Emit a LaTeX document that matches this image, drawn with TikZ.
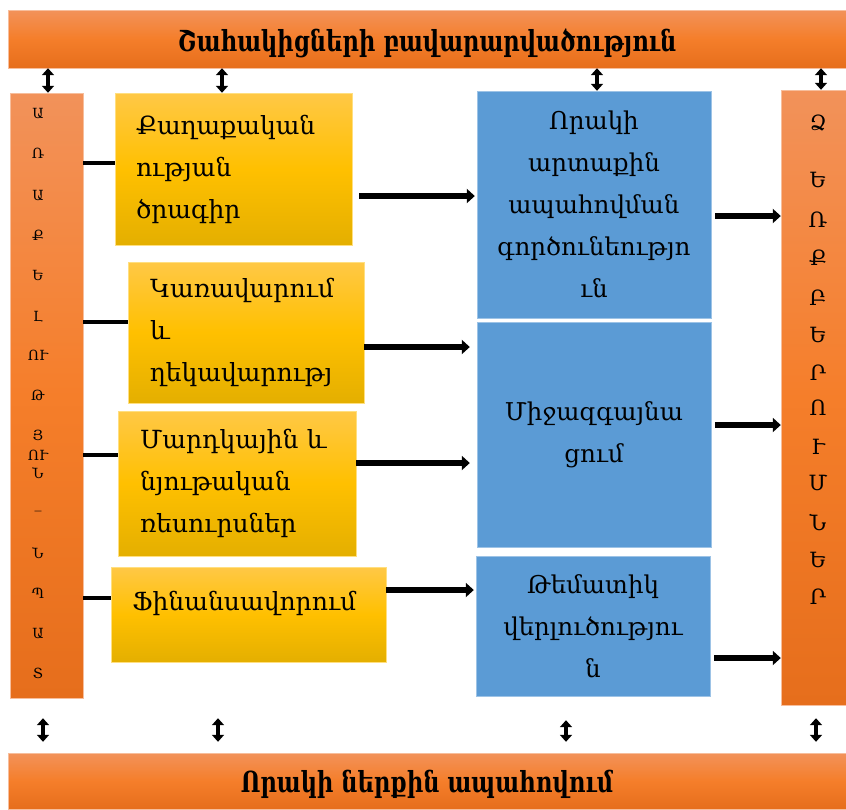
\documentclass[tikz,border=0pt]{standalone}
\usepackage{fontspec}
\setmainfont{DejaVu Serif}
\newfontfamily\headfont{DejaVu Serif}[FakeStretch=0.78]
\usetikzlibrary{arrows.meta, positioning}
\definecolor{orangeTop}{RGB}{242,146,90}
\definecolor{orangeMid}{RGB}{245,126,42}
\definecolor{orangeBot}{RGB}{230,110,28}
\definecolor{goldTop}{RGB}{255,200,70}
\definecolor{goldMid}{RGB}{255,192,0}
\definecolor{goldBot}{RGB}{228,175,0}
\definecolor{qualBlue}{RGB}{91,155,213}

\begin{document}
\begin{tikzpicture}[x=1pt,y=-1pt]
		\tikzstyle{Bar} = [rectangle, inner sep=0pt, draw=orangeTop!60!white, top color=orangeTop, bottom color=orangeBot, middle color=orangeMid]
		\tikzstyle{GoldBox} = [rectangle, inner sep=0pt, align=left, draw=goldMid!50!white, top color=goldTop, bottom color=goldBot, middle color=goldMid, font=\fontsize{25}{42}\selectfont]
		\tikzstyle{BlueBox} = [rectangle, inner sep=0pt, align=center, text width=225pt, draw=qualBlue!60!white, fill=qualBlue, minimum width=234pt, font=\fontsize{24.5}{42}\selectfont]
		\tikzstyle{MissionLetter} = [inner sep=0pt, font=\fontsize{14}{14}\selectfont]
		\tikzstyle{ResultLetter} = [inner sep=0pt, font=\fontsize{21}{21}\selectfont]
		\tikzstyle{arrow} = [line width=5.5pt, -{Triangle[length=8pt,width=14pt]}]
		\tikzstyle{dblarrow} = [line width=4pt, {Triangle[length=7pt,width=12pt]}-{Triangle[length=7pt,width=12pt]}]
		\tikzstyle{link} = [line width=4.5pt]
		
		\useasboundingbox (0,0) rectangle (846,809);
		
		% bars
		\node (topBar) [Bar, minimum width=838pt, minimum height=58pt, text height=31pt, text depth=6pt, font=\headfont\bfseries\fontsize{29}{29}\selectfont] at (427,39) {Շահակիցների բավարարվածություն};
		\node (bottomBar) [Bar, minimum width=838pt, minimum height=56pt, text height=29pt, text depth=6pt, font=\headfont\bfseries\fontsize{29}{29}\selectfont] at (427,781) {Որակի ներքին ապահովում};
		\node (missionBar) [Bar, minimum width=73pt, minimum height=605pt] at (46.5,395.5) {};
		\node (resultBar) [Bar, minimum width=65pt, minimum height=615pt] at (813.5,397.5) {};
		
		% vertical letters
		\foreach \ch/\y [count=\i] in {Ա/113, Ռ/153, Ա/195, Ք/235, Ե/275, Լ/317, ՈՒ/355, Թ/395, Յ/435, ՈՒ/455, Ն/473, \_/510, Ն/553, Պ/593, Ա/633, Տ/673}
			\node (ml\i) [MissionLetter] at (38,\y) {\ch};
		\foreach \ch/\y [count=\i] in {Ձ/123, Ե/180, Ռ/220, Ք/258, Բ/298, Ե/335, Ր/373, Ո/408, Ւ/447, Մ/483, Ն/523, Ե/560, Ր/597}
			\node (rl\i) [ResultLetter] at (818,\y) {\ch};
		
		% factor boxes
		\node (policyBox) [GoldBox, minimum width=237pt, minimum height=152pt, text width=195pt] at (233.5,169) {Քաղաքական\\ության\\ծրագիր};
		\node (leadBox) [GoldBox, minimum width=236pt, minimum height=141pt, text width=192pt] at (246,332.5) {Կառավարում\\և\\ղեկավարությ};
		\node (resourceBox) [GoldBox, minimum width=238pt, minimum height=145pt, text width=194pt] at (237,483.5) {Մարդկային և\\նյութական\\ռեսուրսներ};
		\node (financeBox) [GoldBox, minimum width=275pt, minimum height=95pt, text width=233pt] at (248.5,614.5) {Ֆինանսավորում\\[-14pt]~};
		
		% quality boxes
		\node (externalBox) [BlueBox, minimum height=227pt] at (594,204.5) {Որակի\\արտաքին\\ապահովման\\գործունեությո\\ւն};
		\node (interBox) [BlueBox, minimum height=225pt] at (594,434.5) {Միջազգայնա\\ցում};
		\node (themeBox) [BlueBox, minimum height=140pt] at (593,626) {Թեմատիկ\\վերլուծությու\\ն};
		
		% connectors
		\draw [link] (missionBar.east |- 0,163) -- (policyBox.west |- 0,163);
		\draw [link] (missionBar.east |- 0,322) -- (leadBox.west |- 0,322);
		\draw [link] (missionBar.east |- 0,455) -- (resourceBox.west |- 0,455);
		\draw [link] (missionBar.east |- 0,598) -- (financeBox.west |- 0,598);
		\draw [arrow, shorten <=7pt, shorten >=2pt] (policyBox.east |- 0,196) -- (externalBox.west |- 0,196);
		\draw [arrow, shorten >=7pt] (leadBox.east |- 0,347) -- (interBox.west |- 0,347);
		\draw [arrow, shorten >=7pt] (resourceBox.east |- 0,463) -- (interBox.west |- 0,463);
		\draw [arrow, shorten >=2pt] (financeBox.east |- 0,590) -- (themeBox.west |- 0,590);
		\draw [arrow, shorten <=4pt] (externalBox.east |- 0,216) -- (resultBar.west |- 0,216);
		\draw [arrow, shorten <=4pt] (interBox.east |- 0,425) -- (resultBar.west |- 0,425);
		\draw [arrow, shorten <=4pt] (themeBox.east |- 0,658) -- (resultBar.west |- 0,658);
		
		% links to the outer bars
		\draw [dblarrow] (topBar.south -| 48,0) -- (missionBar.north -| 48,0);
		\draw [dblarrow] (topBar.south -| 222,0) -- (policyBox.north -| 222,0);
		\draw [dblarrow] (topBar.south -| 597,0) -- (externalBox.north -| 597,0);
		\draw [dblarrow] (topBar.south -| 821,0) -- (resultBar.north -| 821,0);
		\draw [dblarrow, shorten <=20pt, shorten >=11pt] (missionBar.south -| 43,0) -- (bottomBar.north -| 43,0);
		\draw [dblarrow, shorten <=56pt, shorten >=11pt] (financeBox.south -| 218,0) -- (bottomBar.north -| 218,0);
		\draw [dblarrow, shorten <=24pt, shorten >=11pt] (themeBox.south -| 566,0) -- (bottomBar.north -| 566,0);
		\draw [dblarrow, shorten <=13pt, shorten >=11pt] (resultBar.south -| 816,0) -- (bottomBar.north -| 816,0);
\end{tikzpicture}
\end{document}
